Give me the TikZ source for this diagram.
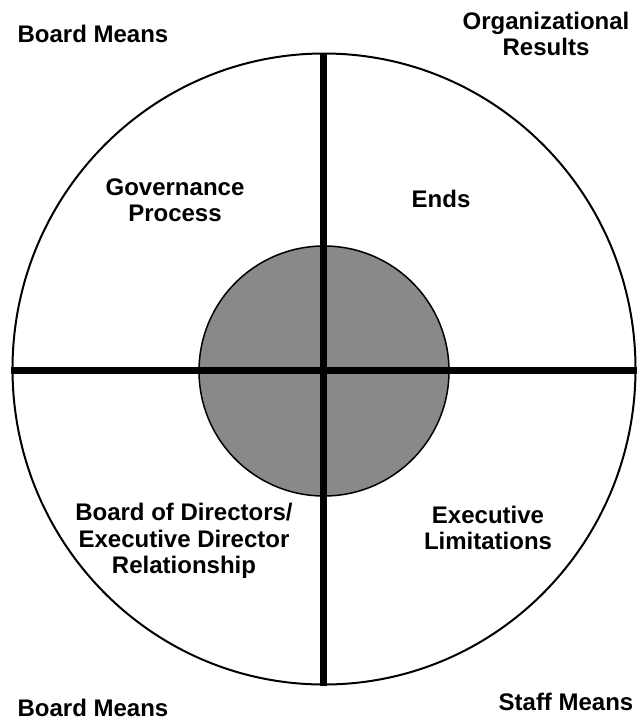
\documentclass[tikz,border=0pt]{standalone}
\usepackage{fontspec}
\setmainfont{Liberation Sans}
\definecolor{hubgray}{RGB}{136,137,139}
\begin{document}
\begin{tikzpicture}[x=1pt,y=-1pt,
  lbl/.style={font=\bfseries\fontsize{24}{26.5}\selectfont, align=center, inner sep=0pt, text=black},
  bar/.style={line width=7pt, black},
]
\useasboundingbox (0,0) rectangle (638,723);
% outer ring
\draw[line width=2pt] (324,369) ellipse [x radius=311.5, y radius=315.5];
% hub
\node[circle, draw=black, line width=1.5pt, fill=hubgray, minimum size=250pt, inner sep=0pt] (hub) at (324,371) {};
% axes
\coordinate (top) at (323,53);
\coordinate (bot) at (323,686);
\coordinate (lft) at (11,370);
\coordinate (rgt) at (637,370);
\draw[bar] (top) -- (bot);
\draw[bar] (lft) -- (rgt);
% labels
\node[lbl] (bm1) at (93,34) {Board Means};
\node[lbl] (org) at (546,34) {Organizational\\Results};
\node[lbl] (gov) at (175,200) {Governance\\Process};
\node[lbl] (ends) at (441,199) {Ends};
\node[lbl] (bod) at (184,541) {Board of Directors/\\Executive Director\\Relationship};
\node[lbl] (exl) at (488,528) {Executive\\Limitations};
\node[lbl] (bm2) at (93,708) {Board Means};
\node[lbl] (stm) at (566,702) {Staff Means};
\end{tikzpicture}
\end{document}
